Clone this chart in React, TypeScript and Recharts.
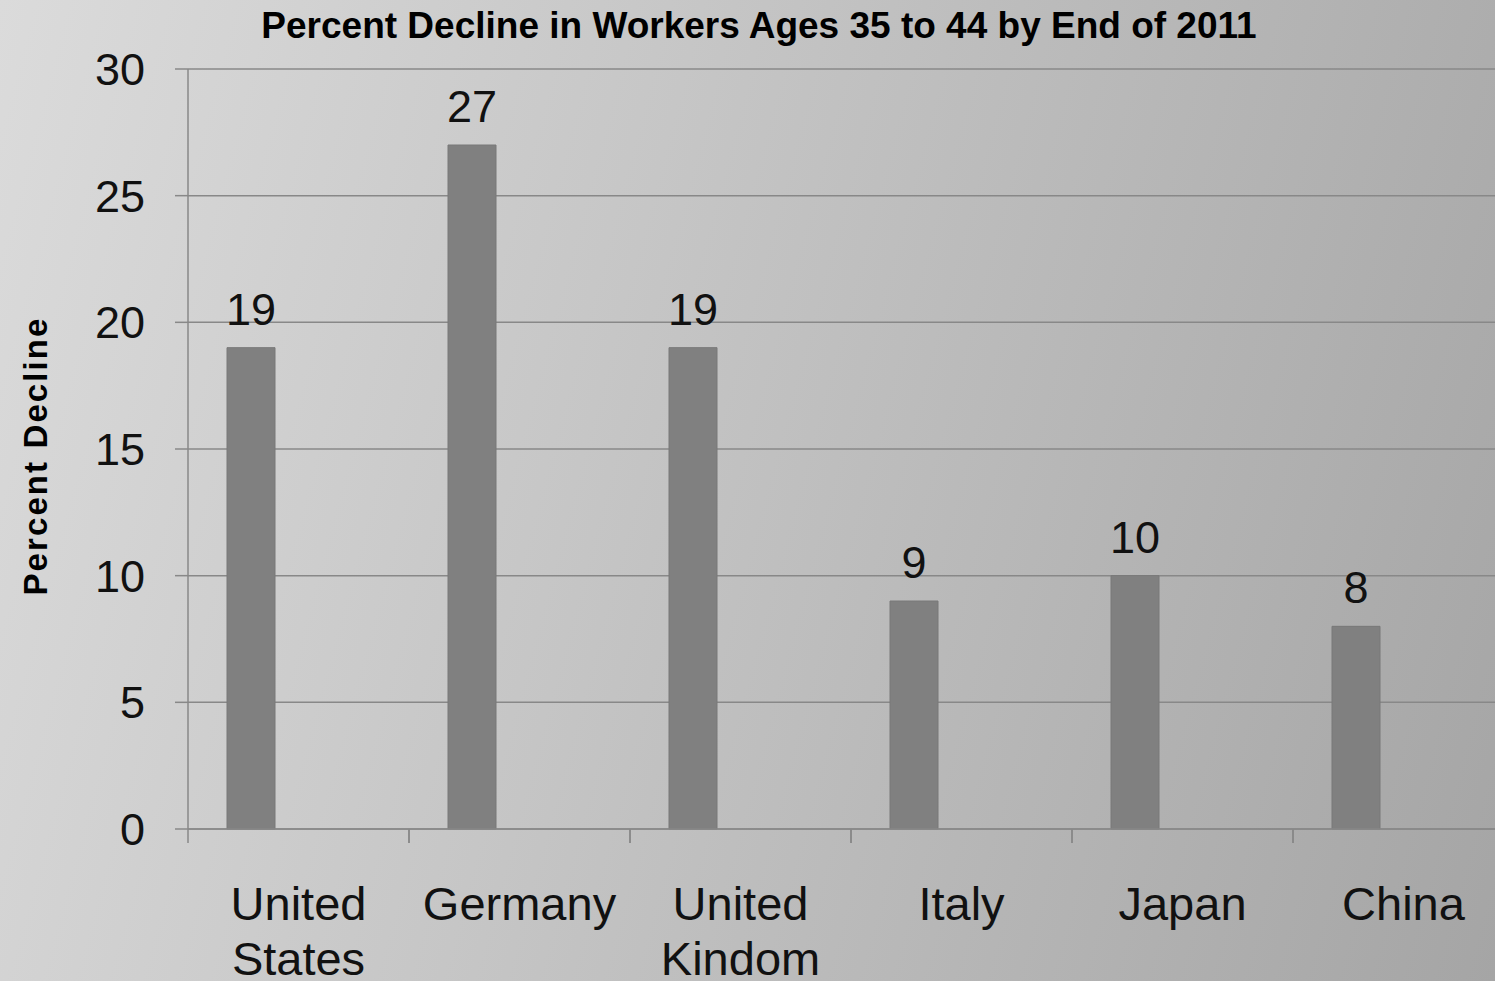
import React from 'react';
import { BarChart, Bar, XAxis, YAxis, CartesianGrid, LabelList } from 'recharts';

const countries = ['United States', 'Germany', 'United Kindom', 'Italy', 'Japan', 'China'];
const declines = [19, 27, 19, 9, 10, 8];
const yTicks = [0, 5, 10, 15, 20, 25, 30];

const data = countries.map((c, i) => ({ name: c, value: declines[i], e1: null, e2: null }));

const FONT = '"Liberation Sans", Arial, sans-serif';
const AXIS = '#888888';

const CountryTick = (props: any) => {
  const { x, y, payload } = props;
  const base = y;
  const half = payload && payload.offset ? payload.offset : 0;
  const words = String(payload.value).split(' ');
  return (
    <g>
      <line x1={x - half} x2={x - half} y1={base} y2={base + 14} stroke={AXIS} strokeWidth={1.5} />
      <line x1={x + half} x2={x + half} y1={base} y2={base + 14} stroke={AXIS} strokeWidth={1.5} />
      <text x={x} y={base} textAnchor="middle" fill="#111" fontSize={47} fontFamily={FONT}>
        {words.map((w: string, i: number) => (
          <tspan key={i} x={x} y={base + 91 + i * 55}>{w}</tspan>
        ))}
      </text>
    </g>
  );
};

const YLabel = (props: any) => {
  const vb = props.viewBox || { x: 0, y: 69, width: 188, height: 760 };
  const cx = 35;
  const cy = vb.y + vb.height / 2 + 7;
  return (
    <text
      x={cx}
      y={cy}
      transform={`rotate(-90, ${cx}, ${cy})`}
      textAnchor="middle"
      dominantBaseline="central"
      fontSize={33}
      fontWeight="bold"
      letterSpacing={2.1}
      fill="#000"
      fontFamily={FONT}
    >
      Percent Decline
    </text>
  );
};

export default function App() {
  return (
    <div
      style={{
        position: 'fixed',
        left: 0,
        top: 0,
        width: 1495,
        height: 981,
        overflow: 'hidden',
        background: 'linear-gradient(105deg, #dbdbdb 0%, #c6c6c6 40%, #a5a5a5 100%)',
        fontFamily: FONT,
      }}
    >
      <div
        style={{
          position: 'absolute',
          left: 0,
          top: 6,
          width: 1518,
          textAlign: 'center',
          fontSize: 37,
          lineHeight: '40px',
          fontWeight: 'bold',
          color: '#000',
        }}
      >
        Percent Decline in Workers Ages 35 to 44 by End of 2011
      </div>
      <div style={{ position: 'absolute', left: 0, top: 0 }}>
        <BarChart
          width={1540}
          height={981}
          data={data}
          margin={{ top: 69, right: 26, left: 0, bottom: 151 }}
          barGap={0}
          barSize={48}
        >
          <CartesianGrid vertical={false} stroke={AXIS} strokeWidth={1.5} />
          <XAxis
            xAxisId="cat"
            dataKey="name"
            height={1}
            tickLine={false}
            tickSize={0}
            tickMargin={0}
            axisLine={{ stroke: AXIS, strokeWidth: 1.5 }}
            tick={<CountryTick />}
            interval={0}
          />
          <YAxis
            width={188}
            domain={[0, 30]}
            ticks={yTicks}
            interval={0}
            tickSize={13}
            tickMargin={30}
            axisLine={{ stroke: AXIS, strokeWidth: 1.5 }}
            tickLine={{ stroke: AXIS, strokeWidth: 1.5 }}
            tick={{ fill: '#111', fontSize: 45, fontFamily: FONT }}
            label={<YLabel />}
          />
          <Bar xAxisId="cat" dataKey="value" fill="#808080" stroke="#787878" strokeWidth={1} isAnimationActive={false}>
            <LabelList dataKey="value" position="top" offset={23} fill="#111" fontSize={45} fontFamily={FONT} />
          </Bar>
          <Bar xAxisId="cat" dataKey="e1" fill="#808080" isAnimationActive={false} />
          <Bar xAxisId="cat" dataKey="e2" fill="#808080" isAnimationActive={false} />
        </BarChart>
      </div>
    </div>
  );
}
